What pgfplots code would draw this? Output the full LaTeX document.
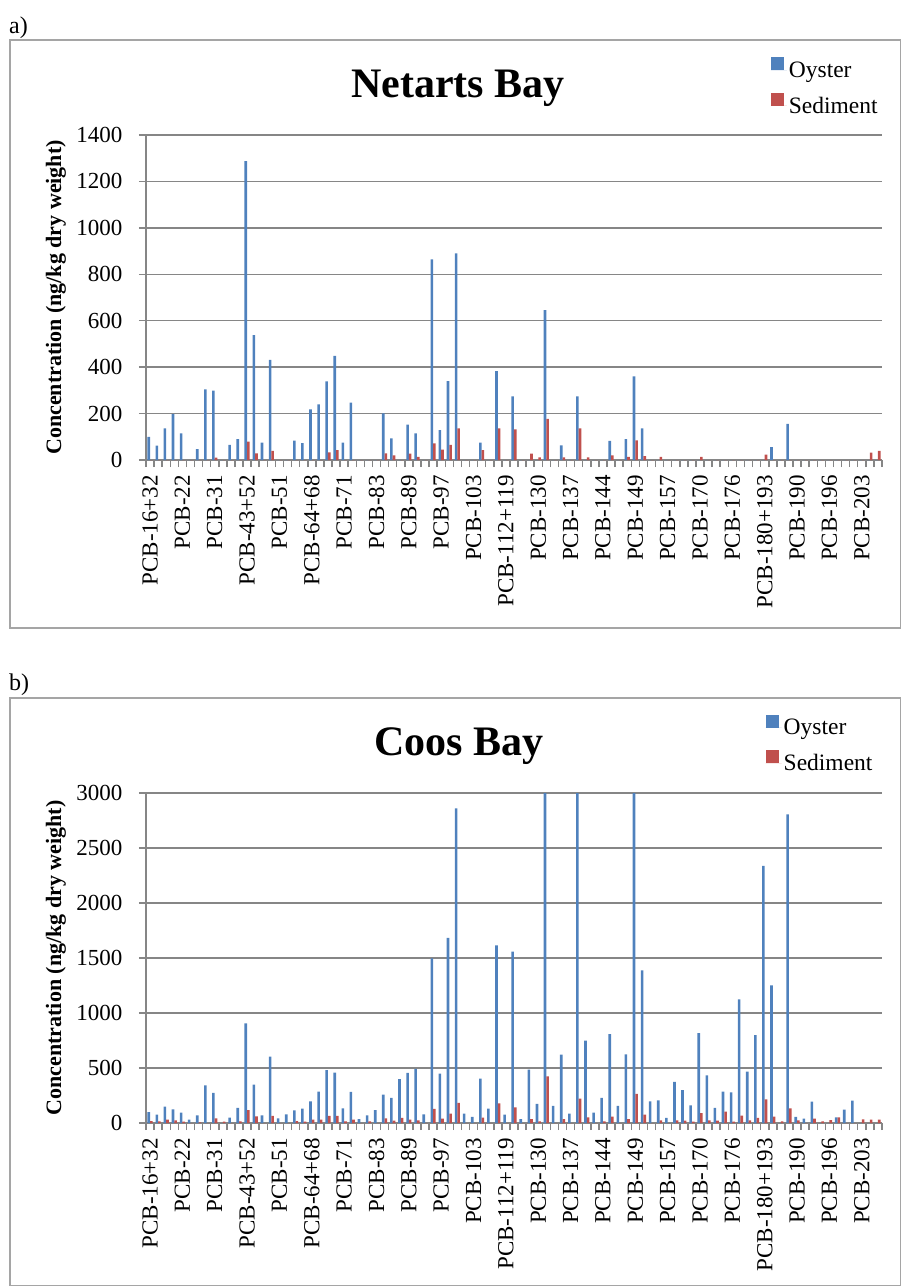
\documentclass[border=0pt]{standalone}
\usepackage{fontspec}
\setmainfont{Liberation Serif}
\usepackage{pgfplots}
\usepackage{pgfplotstable}
\pgfplotsset{compat=1.18}
\definecolor{oyster}{RGB}{79,129,189}
\definecolor{sediment}{RGB}{192,80,77}
\definecolor{gridgray}{RGB}{134,134,134}
\definecolor{framegray}{RGB}{165,165,165}
\newcommand\tickfont{\fontsize{23}{27}\selectfont}
\newcommand\legfont{\fontsize{23.5}{27}\selectfont}
\newcommand\titlefont{\fontsize{42}{48}\selectfont\bfseries}
\newcommand\labfont{\fontsize{22}{26}\selectfont\bfseries}

% idx oyster sediment
\pgfplotstableread{
idx oy sed
0 100 0
1 62 0
2 136 0
3 198 0
4 115 0
5 0 0
6 47 0
7 304 0
8 299 10
9 0 0
10 65 0
11 90 0
12 1288 79
13 538 29
14 75 0
15 431 39
16 0 0
17 0 0
18 83 0
19 73 0
20 218 0
21 240 0
22 339 33
23 449 43
24 75 0
25 247 0
26 0 0
27 0 0
28 0 0
29 201 29
30 93 20
31 0 0
32 152 27
33 115 14
34 0 0
35 864 72
36 129 45
37 340 65
38 890 136
39 0 0
40 0 0
41 75 43
42 0 0
43 383 136
44 0 0
45 274 132
46 0 0
47 0 27
48 0 11
49 646 177
50 0 0
51 63 11
52 0 0
53 274 136
54 0 11
55 0 0
56 0 0
57 82 20
58 0 0
59 90 13
60 360 85
61 136 17
62 0 0
63 0 14
64 0 0
65 0 0
66 0 0
67 0 0
68 0 14
69 0 0
70 0 0
71 0 0
72 0 0
73 0 0
74 0 0
75 0 0
76 0 23
77 56 0
78 0 0
79 156 0
80 0 0
81 0 0
82 0 0
83 0 0
84 0 0
85 0 0
86 0 0
87 0 0
88 0 0
89 0 32
90 0 39
}\netarts

\pgfplotstableread{
idx oy sed
0 100 18
1 76 15
2 149 30
3 124 24
4 94 12
5 30 0
6 70 6
7 343 0
8 273 42
9 0 12
10 49 0
11 137 15
12 905 118
13 349 61
14 70 0
15 604 64
16 42 0
17 79 0
18 115 18
19 131 12
20 197 30
21 285 30
22 480 64
23 458 64
24 134 15
25 282 30
26 36 0
27 70 15
28 118 0
29 258 42
30 228 21
31 398 46
32 455 30
33 492 24
34 79 0
35 1497 128
36 449 39
37 1682 85
38 2860 182
39 85 0
40 55 0
41 404 49
42 131 0
43 1615 179
44 76 0
45 1557 143
46 36 0
47 486 36
48 173 15
49 3600 425
50 155 0
51 622 36
52 85 0
53 3600 222
54 750 52
55 94 0
56 228 15
57 808 58
58 155 0
59 625 36
60 3600 264
61 1387 76
62 197 0
63 206 24
64 46 0
65 373 24
66 298 21
67 161 12
68 817 91
69 434 24
70 137 21
71 285 103
72 279 12
73 1123 67
74 468 24
75 798 46
76 2338 216
77 1251 58
78 0 15
79 2805 134
80 55 24
81 39 0
82 194 39
83 0 15
84 0 27
85 52 52
86 121 0
87 203 0
88 0 33
89 0 30
90 0 30
}\coos

\pgfplotsset{
  pcb/.style={
    scale only axis, width=736pt,
    xmin=-0.5, xmax=90.5, ymin=0,
    ybar=0pt, bar width=2.6pt,
    axis x line*=bottom, axis y line*=left,
    axis line style={gridgray, line width=1.5pt},
    ymajorgrids, grid style={gridgray, line width=1.5pt},
    tick align=outside, major tick length=7pt,
    tick style={gridgray, line width=1.5pt},
    xtick={-0.5,0.5,...,90.5}, xticklabels={},
    extra x ticks={0,4,...,88},
    extra x tick labels={PCB-16+32,PCB-22,PCB-31,PCB-43+52,PCB-51,PCB-64+68,PCB-71,PCB-83,PCB-89,PCB-97,PCB-103,PCB-112+119,PCB-130,PCB-137,PCB-144,PCB-149,PCB-157,PCB-170,PCB-176,PCB-180+193,PCB-190,PCB-196,PCB-203},
    extra x tick style={major tick length=0pt, tick style={draw=none},
      tick label style={rotate=90, anchor=east, font=\tickfont, inner sep=0pt, xshift=-15pt}},
    yticklabel style={font=\tickfont, /pgf/number format/assume math mode=true,
      /pgf/number format/1000 sep={}, xshift=-13pt},
    ylabel={Concentration (ng/kg dry weight)},
    ylabel style={font=\labfont, at={(axis description cs:-0.1223,0.5)}, anchor=center},
    legend cell align=left,
    legend image code/.code={\fill[##1,draw=none] (0pt,0pt) rectangle (13pt,13pt);
      \path (0pt,0pt) -- (16pt,0pt);},
    legend style={draw=none, fill=none, font=\legfont, inner sep=0pt,
      row sep=12pt, column sep=0pt, nodes={inner sep=2pt}, anchor=north west},
  }
}

\begin{document}
\begin{tikzpicture}[x=1pt,y=1pt]
\useasboundingbox (0,0) rectangle (901,-1286);
% frames
\draw[framegray, line width=1.2pt] (10,-40) rectangle (900.5,-628);
\draw[framegray, line width=1.2pt] (10,-698) rectangle (900.5,-1285.5);
\node[anchor=base west, inner sep=0pt, font=\fontsize{24}{28}\selectfont] at (9,-33) {a)};
\node[anchor=base west, inner sep=0pt, font=\fontsize{24}{28}\selectfont] at (9,-690) {b)};
\node[anchor=base, inner sep=0pt, font=\titlefont] at (458,-97) {Netarts Bay};
\node[anchor=base, inner sep=0pt, font=\titlefont] at (459,-755) {Coos Bay};

\begin{axis}[pcb, height=325pt, at={(146pt,-460pt)}, anchor=south west,
  ymax=1400, ytick={0,200,...,1400},
  legend style={at={(0.8488,1.24)}}]
\addplot[fill=oyster, draw=none] table[x=idx, y=oy] {\netarts};
\addlegendentry{Oyster}
\addplot[fill=sediment, draw=none] table[x=idx, y=sed] {\netarts};
\addlegendentry{Sediment}
\end{axis}

\begin{axis}[pcb, height=330pt, at={(146pt,-1123pt)}, anchor=south west,
  ymax=3000, ytick={0,500,...,3000},
  legend style={at={(0.8417,1.238)}}]
\addplot[fill=oyster, draw=none] table[x=idx, y=oy] {\coos};
\addlegendentry{Oyster}
\addplot[fill=sediment, draw=none] table[x=idx, y=sed] {\coos};
\addlegendentry{Sediment}
\end{axis}
\end{tikzpicture}
\end{document}
